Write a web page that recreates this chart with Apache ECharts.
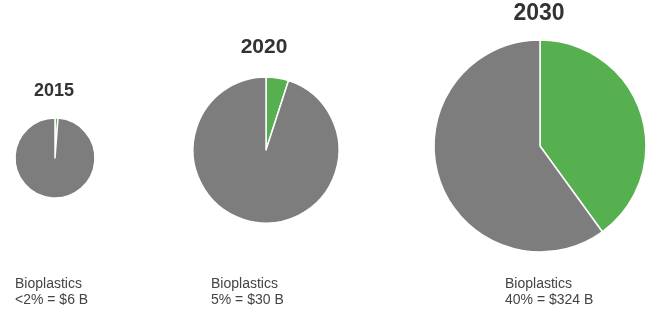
<!DOCTYPE html>
<html>
<head>
<meta charset="utf-8">
<script src="https://cdn.jsdelivr.net/npm/echarts@6/dist/echarts.min.js"></script>
<style>
html,body{margin:0;padding:0;background:#fff;}
#main{width:665px;height:322px;}
</style>
</head>
<body>
<div id="main"></div>
<script>
var years = ['2015', '2020', '2030'];
var bioShare = [1.2, 5, 40];
var otherShare = [98.8, 95, 60];
var captionTitle = ['Bioplastics', 'Bioplastics', 'Bioplastics'];
var captionValue = ['<2% = $6 B', '5% = $30 B', '40% = $324 B'];

var GREEN = '#57b050';
var GREY = '#7d7d7d';
var layout = [
  {center: [55, 158], radius: 40, titleX: 54, titleY: 82, titleSize: 18, capX: 15},
  {center: [266, 150], radius: 73, titleX: 264, titleY: 37, titleSize: 21, capX: 211},
  {center: [540, 146], radius: 106, titleX: 539, titleY: 2, titleSize: 23, capX: 505}
];

var series = [];
var graphics = [];
years.forEach(function (y, i) {
  var L = layout[i];
  series.push({
    type: 'pie',
    center: L.center,
    radius: [0, L.radius],
    startAngle: 90,
    clockwise: true,
    silent: true,
    label: {show: false},
    labelLine: {show: false},
    itemStyle: {borderColor: '#ffffff', borderWidth: 1.5},
    data: [
      {name: 'Bioplastics', value: bioShare[i], itemStyle: {color: GREEN}},
      {name: 'Other', value: otherShare[i], itemStyle: {color: GREY}}
    ]
  });
  graphics.push({
    type: 'text',
    x: L.titleX, y: L.titleY,
    style: {
      text: y, textAlign: 'center', textVerticalAlign: 'top',
      fontFamily: 'Liberation Sans, Arial, sans-serif', fontWeight: 'bold',
      fontSize: L.titleSize, fill: '#333333'
    }
  });
  graphics.push({
    type: 'text',
    x: L.capX, y: 276,
    style: {
      text: captionTitle[i] + '\n' + captionValue[i],
      textAlign: 'left', textVerticalAlign: 'top',
      fontFamily: 'Liberation Sans, Arial, sans-serif',
      fontSize: 14, lineHeight: 16, fill: '#444444'
    }
  });
});

var chart = echarts.init(document.getElementById('main'));
chart.setOption({
  animation: false,
  backgroundColor: '#ffffff',
  series: series,
  graphic: graphics
});
</script>
</body>
</html>
